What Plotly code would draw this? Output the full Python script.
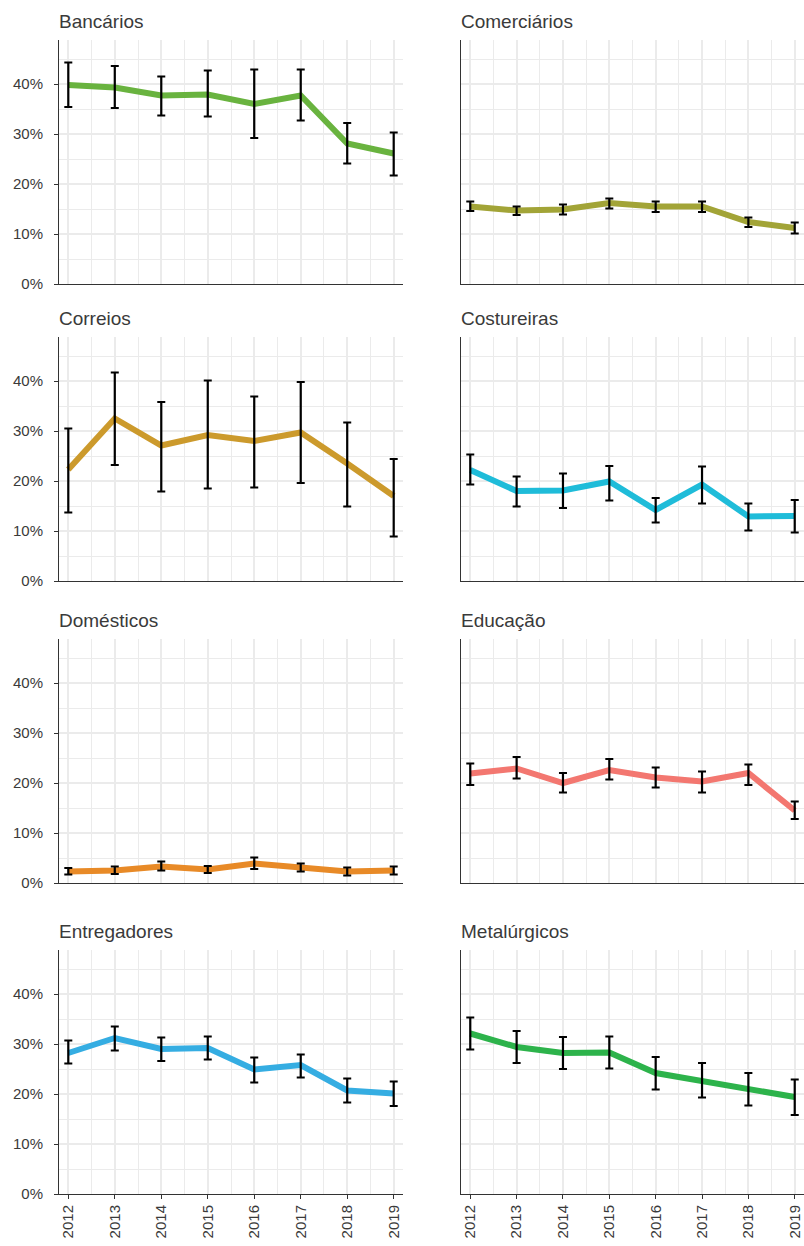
import plotly.graph_objects as go

# Years on the x axis
years = [2012, 2013, 2014, 2015, 2016, 2017, 2018, 2019]

# Panel names (one per facet, in reading order)
categories = ["Bancários", "Comerciários", "Correios", "Costureiras",
              "Domésticos", "Educação", "Entregadores", "Metalúrgicos"]

# Line colours per facet
colors = ["#69B33F", "#A2A437", "#CC9A2C", "#1FBCD9",
          "#E88A27", "#F37770", "#35ADE2", "#2DB34B"]

# Estimates (%) with lower / upper confidence bounds
bancarios_val = [39.8, 39.3, 37.7, 37.9, 36.0, 37.7, 28.1, 26.1]
bancarios_lo = [35.4, 35.2, 33.7, 33.5, 29.2, 32.7, 24.1, 21.7]
bancarios_hi = [44.3, 43.6, 41.5, 42.7, 42.9, 42.9, 32.2, 30.3]

comerciarios_val = [15.5, 14.7, 14.9, 16.2, 15.5, 15.5, 12.4, 11.2]
comerciarios_lo = [14.6, 13.8, 13.9, 15.1, 14.4, 14.4, 11.4, 10.1]
comerciarios_hi = [16.5, 15.5, 15.9, 17.1, 16.5, 16.5, 13.3, 12.3]

correios_val = [22.3, 32.5, 27.1, 29.2, 28.0, 29.7, 23.5, 17.0]
correios_lo = [13.7, 23.2, 17.9, 18.5, 18.7, 19.6, 14.9, 8.9]
correios_hi = [30.5, 41.7, 35.8, 40.1, 36.9, 39.8, 31.7, 24.4]

costureiras_val = [22.2, 18.0, 18.1, 19.9, 14.2, 19.3, 12.9, 13.0]
costureiras_lo = [19.3, 14.9, 14.6, 16.1, 11.7, 15.5, 10.1, 9.7]
costureiras_hi = [25.3, 20.9, 21.5, 23.0, 16.6, 22.9, 15.5, 16.2]

domesticos_val = [2.3, 2.5, 3.3, 2.7, 3.9, 3.1, 2.3, 2.5]
domesticos_lo = [1.7, 1.8, 2.5, 2.0, 2.8, 2.3, 1.5, 1.7]
domesticos_hi = [3.0, 3.3, 4.3, 3.4, 5.1, 3.9, 3.1, 3.3]

educacao_val = [21.9, 22.9, 20.0, 22.6, 21.1, 20.3, 22.0, 14.5]
educacao_lo = [19.6, 20.9, 18.1, 20.7, 19.1, 18.1, 19.6, 12.8]
educacao_hi = [23.9, 25.2, 22.0, 24.8, 23.1, 22.3, 23.7, 16.3]

entregadores_val = [28.2, 31.2, 29.0, 29.2, 24.9, 25.8, 20.7, 20.1]
entregadores_lo = [26.1, 28.7, 26.6, 26.9, 22.3, 23.3, 18.3, 17.6]
entregadores_hi = [30.7, 33.5, 31.3, 31.5, 27.3, 27.9, 23.1, 22.5]

metalurgicos_val = [32.1, 29.4, 28.2, 28.3, 24.2, 22.7, 20.9, 19.4]
metalurgicos_lo = [28.9, 26.2, 25.0, 25.1, 20.9, 19.3, 17.7, 15.8]
metalurgicos_hi = [35.3, 32.6, 31.4, 31.5, 27.4, 26.2, 24.2, 22.9]

y_tick_values = [0, 10, 20, 30, 40]
y_tick_labels = ["0%", "10%", "20%", "30%", "40%"]

series = [
    (bancarios_val, bancarios_lo, bancarios_hi),
    (comerciarios_val, comerciarios_lo, comerciarios_hi),
    (correios_val, correios_lo, correios_hi),
    (costureiras_val, costureiras_lo, costureiras_hi),
    (domesticos_val, domesticos_lo, domesticos_hi),
    (educacao_val, educacao_lo, educacao_hi),
    (entregadores_val, entregadores_lo, entregadores_hi),
    (metalurgicos_val, metalurgicos_lo, metalurgicos_hi),
]

# Page geometry (pixels)
W, H = 804, 1246
col_px = [(59, 403), (461, 804)]
row_px = [(40, 284), (337, 581), (639, 883), (950, 1194)]

FONT = "Liberation Sans, Arial, sans-serif"
TXT = "#3a3a3a"
GRID = "#EBEBEB"
AXIS = "#333333"

fig = go.Figure()
layout = dict(
    width=W, height=H,
    margin=dict(l=0, r=0, t=0, b=0, autoexpand=False),
    paper_bgcolor="white", plot_bgcolor="white",
    showlegend=False,
    font=dict(family=FONT, color=TXT),
    annotations=[],
)

for i, (name, color, (val, lo, hi)) in enumerate(zip(categories, colors, series)):
    r, c = divmod(i, 2)
    n = i + 1
    xa = "x" if n == 1 else f"x{n}"
    ya = "y" if n == 1 else f"y{n}"

    fig.add_trace(go.Scatter(
        x=years, y=val, mode="lines", xaxis=xa, yaxis=ya,
        line=dict(color=color, width=6), hoverinfo="skip",
    ))
    fig.add_trace(go.Scatter(
        x=years, y=val, mode="markers", xaxis=xa, yaxis=ya,
        marker=dict(size=1, color="rgba(0,0,0,0)"),
        error_y=dict(type="data", symmetric=False,
                     array=[h - v for h, v in zip(hi, val)],
                     arrayminus=[v - l for v, l in zip(val, lo)],
                     color="black", thickness=2.2, width=4),
    ))

    x0, x1 = col_px[c]
    top, bot = row_px[r]
    bottom_row = r == 3
    left_col = c == 0

    layout["xaxis" if n == 1 else f"xaxis{n}"] = dict(
        domain=[x0 / W, x1 / W], anchor=ya,
        range=[2011.8, 2019.2], automargin=False,
        tickmode="array", tickvals=years, ticktext=[str(y) for y in years],
        showticklabels=bottom_row, tickangle=-90,
        ticks="outside" if bottom_row else "", ticklen=4, tickwidth=1, tickcolor=AXIS,
        tickfont=dict(size=15, color=TXT),
        showgrid=True, gridcolor=GRID, gridwidth=2,
        minor=dict(tickmode="linear", tick0=2011.5, dtick=1,
                   showgrid=True, gridcolor=GRID, gridwidth=1),
        showline=True, linecolor=AXIS, linewidth=1,
        zeroline=False, fixedrange=True,
    )
    layout["yaxis" if n == 1 else f"yaxis{n}"] = dict(
        domain=[1 - bot / H, 1 - top / H], anchor=xa,
        range=[0, 48.8], automargin=False,
        tickmode="array", tickvals=y_tick_values, ticktext=y_tick_labels,
        showticklabels=left_col, ticklabelstandoff=8,
        ticks="outside" if left_col else "", ticklen=4, tickwidth=1, tickcolor=AXIS,
        tickfont=dict(size=15, color=TXT),
        showgrid=True, gridcolor=GRID, gridwidth=2,
        minor=dict(tickmode="linear", tick0=5, dtick=10,
                   showgrid=True, gridcolor=GRID, gridwidth=1),
        showline=True, linecolor=AXIS, linewidth=1,
        zeroline=False, fixedrange=True,
    )

    layout["annotations"].append(dict(
        text=name, xref="paper", yref="paper",
        x=(x0 - 2) / W, y=1 - (top - 19) / H,
        xanchor="left", yanchor="middle", showarrow=False,
        font=dict(size=19, color=TXT, family=FONT),
    ))

fig.update_layout(**layout)
fig.write_html("out.html")
